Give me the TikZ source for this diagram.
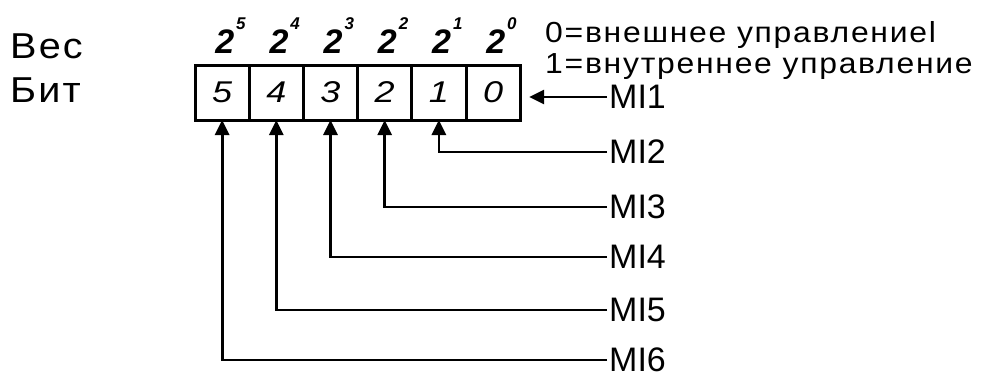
\documentclass[tikz,border=0pt]{standalone}
\usepackage{fontspec}
\setmainfont{Liberation Sans}
\newfontfamily\widefont[FakeStretch=1.1,LetterSpace=6]{Liberation Sans}
\newfontfamily\digitfont[FakeStretch=1.2]{Liberation Sans}
\usetikzlibrary{positioning,arrows.meta}

\tikzset{
  bitcell/.style={draw, line width=3pt, minimum width=54.2pt, minimum height=55pt,
    outer sep=0pt, inner sep=0pt, font=\digitfont\itshape\fontsize{30}{30}\selectfont},
  weight/.style={anchor=base west, inner sep=0pt,
    font=\bfseries\itshape\fontsize{34}{34}\selectfont},
  caption/.style={anchor=base west, inner sep=0pt, font=\widefont\fontsize{36}{36}\selectfont},
  note/.style={anchor=base west, inner sep=0pt, font=\widefont\fontsize{29}{29}\selectfont},
  sig/.style={anchor=west, inner xsep=2pt, inner ysep=0pt, font=\fontsize{34}{34}\selectfont},
  feed/.style={line width=2.8pt, -{Triangle[length=15pt,width=14pt]}},
}
\newcommand{\pw}[1]{2\hspace{2pt}\raisebox{24pt}{\fontsize{17}{17}\selectfont #1}}

\begin{document}
\begin{tikzpicture}[x=1pt,y=-1pt]
    \useasboundingbox (0,0) rectangle (984,378);

    % bit register
    \node[bitcell] (b5) at (222.1,92.5) {5};
    \node[bitcell, right=0pt of b5] (b4) {4};
    \node[bitcell, right=0pt of b4] (b3) {3};
    \node[bitcell, right=0pt of b3] (b2) {2};
    \node[bitcell, right=0pt of b2] (b1) {1};
    \node[bitcell, right=0pt of b1] (b0) {0};

    % weights
    \node[weight] (w5) at ([xshift=-7pt,yshift=12pt]b5.north) {\pw{5}};
    \node[weight] (w4) at ([xshift=-7pt,yshift=12pt]b4.north) {\pw{4}};
    \node[weight] (w3) at ([xshift=-7pt,yshift=12pt]b3.north) {\pw{3}};
    \node[weight] (w2) at ([xshift=-7pt,yshift=12pt]b2.north) {\pw{2}};
    \node[weight] (w1) at ([xshift=-7pt,yshift=12pt]b1.north) {\pw{1}};
    \node[weight] (w0) at ([xshift=-7pt,yshift=12pt]b0.north) {\pw{0}};

    \node[caption] (wes) at (10,58) {Вес};
    \node[caption] (bit) at (10,102) {Бит};

    \node[note] (zero) at (545,42) {0=внешнее управлениеl};
    \node[note] (one) at (545,73) {1=внутреннее управление};

    % inputs
    \node[sig] (mi1) at (607,97) {MI1};
    \node[sig] (mi2) at (607,152) {MI2};
    \node[sig] (mi3) at (607,207) {MI3};
    \node[sig] (mi4) at (607,257) {MI4};
    \node[sig] (mi5) at (607,310) {MI5};
    \node[sig] (mi6) at (607,360) {MI6};

    \draw[feed, shorten >=9pt] (mi1.west) -- (mi1.west -| b0.east);
    \draw[feed] (mi2.west) -| (b1.south);
    \draw[feed] (mi3.west) -| (b2.south);
    \draw[feed] (mi4.west) -| (b3.south);
    \draw[feed] (mi5.west) -| (b4.south);
    \draw[feed] (mi6.west) -| (b5.south);
\end{tikzpicture}
\end{document}
